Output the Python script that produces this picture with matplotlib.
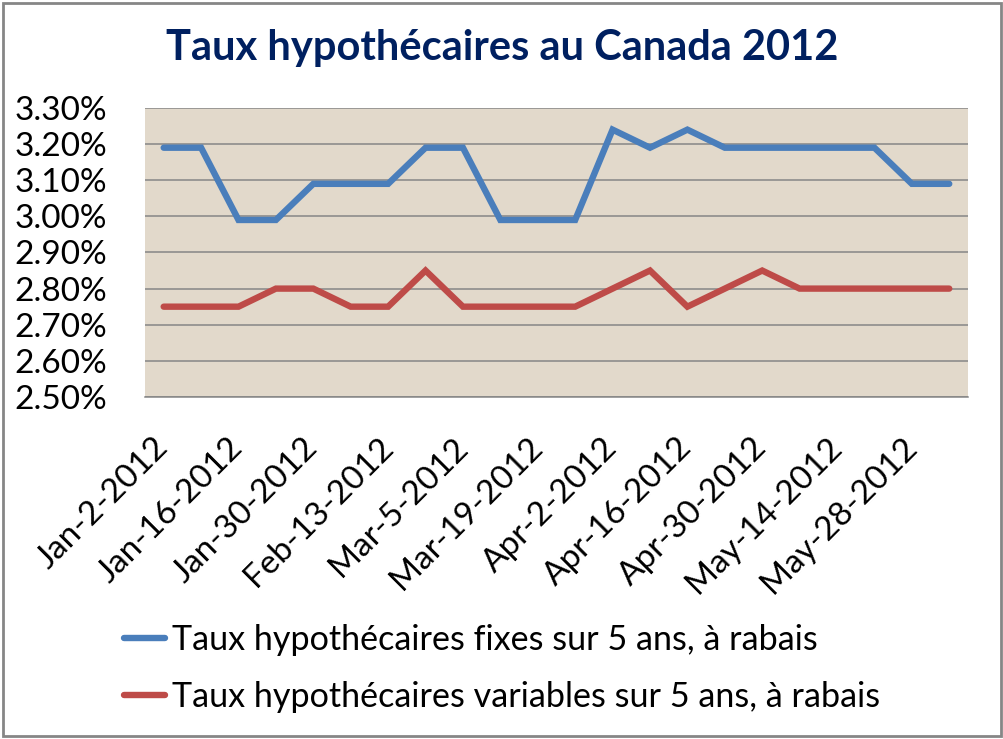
import matplotlib.pyplot as plt
import numpy as np
from matplotlib.ticker import FuncFormatter

# weekly dates (only every other one gets a label on the axis)
dates = ["Jan-2-2012", "Jan-9-2012", "Jan-16-2012", "Jan-23-2012", "Jan-30-2012",
         "Feb-6-2012", "Feb-13-2012", "Feb-27-2012", "Mar-5-2012", "Mar-12-2012",
         "Mar-19-2012", "Mar-26-2012", "Apr-2-2012", "Apr-9-2012", "Apr-16-2012",
         "Apr-23-2012", "Apr-30-2012", "May-7-2012", "May-14-2012", "May-21-2012",
         "May-28-2012", "Jun-4-2012"]
fixed_rates = [3.19, 3.19, 2.99, 2.99, 3.09, 3.09, 3.09, 3.19, 3.19, 2.99, 2.99,
               2.99, 3.24, 3.19, 3.24, 3.19, 3.19, 3.19, 3.19, 3.19, 3.09, 3.09]
variable_rates = [2.75, 2.75, 2.75, 2.80, 2.80, 2.75, 2.75, 2.85, 2.75, 2.75, 2.75,
                  2.75, 2.80, 2.85, 2.75, 2.80, 2.85, 2.80, 2.80, 2.80, 2.80, 2.80]

plt.rcParams['font.family'] = ['Lato', 'DejaVu Sans']

fig = plt.figure(figsize=(10.04, 7.39), dpi=100)
ax = fig.add_axes([0.1444, 0.4628, 0.8197, 0.3911])
ax.set_facecolor('#e2d9cb')

x = np.arange(len(dates))
ax.plot(x, fixed_rates, color='#4a7ebb', lw=4.6, solid_capstyle='round',
        solid_joinstyle='miter', label="Taux hypothécaires fixes sur 5 ans, à rabais", zorder=3)
ax.plot(x, variable_rates, color='#be4b48', lw=4.6, solid_capstyle='round',
        solid_joinstyle='miter', label="Taux hypothécaires variables sur 5 ans, à rabais", zorder=3)

ax.set_xlim(-0.5, len(dates) - 0.5)
ax.set_ylim(2.50, 3.30)
ax.set_yticks(np.arange(2.50, 3.301, 0.10))
ax.yaxis.set_major_formatter(FuncFormatter(lambda v, p: "%.2f%%" % v))
ax.grid(axis='y', color='#868686', lw=1.1)
ax.set_axisbelow(True)
for s in ['left', 'right', 'top']:
    ax.spines[s].set_visible(False)
ax.spines['bottom'].set_color('#868686')
ax.spines['bottom'].set_linewidth(1.1)

ax.set_xticks(x[::2])
ax.set_xticklabels(dates[::2], rotation=45, ha='right', va='center',
                   rotation_mode='anchor', fontsize=24)
ax.tick_params(axis='x', length=0, pad=33)
ax.tick_params(axis='y', length=0, pad=27, labelsize=24)
for lab in ax.get_yticklabels():
    lab.set_horizontalalignment('right')

fig.text(0.5, 0.935, "Taux hypothécaires au Canada 2012", ha='center', va='center',
         fontsize=30, fontweight='bold', color='#002060')

fig.legend(loc='center left', bbox_to_anchor=(0.110, 0.0954), frameon=False,
           fontsize=24.6, handlelength=1.2, handletextpad=0.2, labelspacing=0.72,
           borderaxespad=0)

# outer chart border
fig.patches.append(plt.Rectangle((0.003, 0.004), 0.994, 0.992, transform=fig.transFigure,
                                 fill=False, edgecolor='#868686', lw=2))

fig.savefig('out.png', dpi=100)
